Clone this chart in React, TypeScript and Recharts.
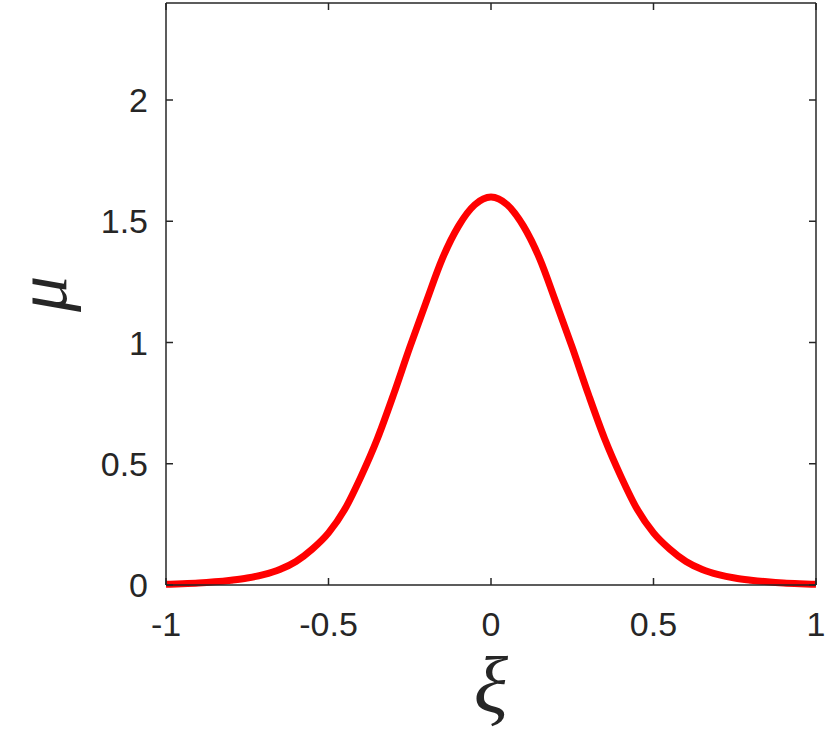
import React from 'react';
import { LineChart, Line, XAxis, YAxis } from 'recharts';

// values
const xi = [
  -1, -0.95, -0.9, -0.85, -0.8, -0.75, -0.7, -0.65, -0.6, -0.55, -0.5, -0.45, -0.4, -0.35, -0.3, -0.25, -0.2,
  -0.15, -0.1, -0.05, 0, 0.05, 0.1, 0.15, 0.2, 0.25, 0.3, 0.35, 0.4, 0.45, 0.5, 0.55, 0.6, 0.65, 0.7, 0.75,
  0.8, 0.85, 0.9, 0.95, 1,
];
const mu = [
  0.003, 0.005, 0.008, 0.013, 0.02, 0.029, 0.043, 0.064, 0.097, 0.148, 0.215, 0.312, 0.447, 0.602, 0.785, 0.98,
  1.165, 1.345, 1.48, 1.568, 1.6, 1.568, 1.48, 1.345, 1.165, 0.98, 0.785, 0.602, 0.447, 0.312, 0.215, 0.148,
  0.097, 0.064, 0.043, 0.029, 0.02, 0.013, 0.008, 0.005, 0.003,
];
const xTicks = [-1, -0.5, 0, 0.5, 1];
const yTicks = [0, 0.5, 1, 1.5, 2];

const data = xi.map((x, i) => ({ xi: x, mu: mu[i] }));

const AXIS = '#262626';
const tickFont = { fontFamily: '"Liberation Sans", Arial, Helvetica, sans-serif', fontSize: 34, fill: AXIS };
const labelFont = { fontFamily: '"Liberation Serif", "Times New Roman", serif', fontStyle: 'italic', fill: AXIS };

const App = () => {
  return (
    <div style={{ position: 'absolute', left: 0, top: 0 }}>
      <LineChart width={830} height={738} data={data} margin={{ top: 2, right: 13, bottom: 93, left: 0 }}>
        <XAxis
          dataKey="xi"
          type="number"
          domain={[-1, 1]}
          ticks={xTicks}
          height={60}
          stroke={AXIS}
          strokeWidth={1.5}
          tickSize={-7}
          tickMargin={34}
          tick={tickFont}
          label={(props: any) => {
            const vb = props.viewBox;
            return (
              <text x={vb.x + vb.width / 2} y={712} textAnchor="middle" style={{ ...labelFont, fontSize: 80 }}>
                ξ
              </text>
            );
          }}
        />
        {/* box: mirrored axes on top and right, ticks only */}
        <XAxis
          xAxisId="top"
          dataKey="xi"
          type="number"
          orientation="top"
          domain={[-1, 1]}
          ticks={xTicks}
          height={1}
          stroke={AXIS}
          strokeWidth={1.5}
          tickSize={-7}
          tickFormatter={() => ''}
        />
        <YAxis
          type="number"
          domain={[0, 2.4]}
          ticks={yTicks}
          width={166}
          stroke={AXIS}
          strokeWidth={1.5}
          tickSize={-7}
          tickMargin={25}
          tick={tickFont}
          label={(props: any) => {
            const vb = props.viewBox;
            const cy = vb.y + vb.height / 2;
            return (
              <text x={66} y={cy} textAnchor="middle" transform={`rotate(-90, 66, ${cy})`} style={{ ...labelFont, fontSize: 72 }}>
                μ
              </text>
            );
          }}
        />
        <YAxis
          yAxisId="right"
          orientation="right"
          type="number"
          domain={[0, 2.4]}
          ticks={yTicks}
          width={1}
          stroke={AXIS}
          strokeWidth={1.5}
          tickSize={-7}
          tickFormatter={() => ''}
        />
        <Line
          xAxisId="top"
          yAxisId="right"
          dataKey="mu"
          stroke="none"
          strokeWidth={0}
          dot={false}
          activeDot={false}
          legendType="none"
          isAnimationActive={false}
        />
        <Line
          dataKey="mu"
          type="monotone"
          stroke="#ff0000"
          strokeWidth={7}
          dot={false}
          isAnimationActive={false}
        />
      </LineChart>
    </div>
  );
};

export default App;
